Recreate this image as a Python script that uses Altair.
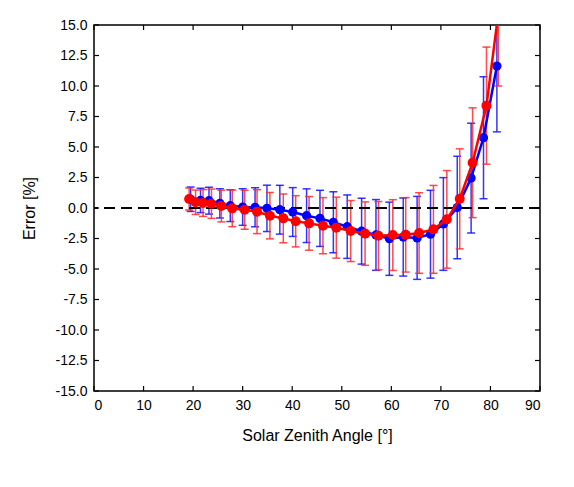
import altair as alt
import pandas as pd

# Blue series: solar zenith angle [deg], mean error [%], spread [%]
blue_angle = [19.5, 21.5, 23.2, 25.4, 27.5, 30.0, 32.5, 34.9, 37.5, 40.1, 42.9, 45.6, 48.3,
              51.1, 54.0, 56.9, 59.6, 62.4, 65.2, 67.9, 70.5, 73.3, 76.1, 78.6, 81.3]
blue_error = [0.72, 0.62, 0.60, 0.38, 0.19, 0.08, 0.06, -0.03, -0.14, -0.33, -0.63, -0.85, -1.17,
              -1.53, -1.90, -2.21, -2.52, -2.38, -2.45, -2.15, -1.31, 0.04, 2.45, 5.76, 11.64]
blue_spread = [1.0, 1.0, 1.1, 1.2, 1.3, 1.5, 1.6, 1.9, 2.0, 2.0, 2.2, 2.3, 2.5,
               2.6, 2.7, 2.9, 3.0, 3.2, 3.4, 3.6, 3.8, 4.2, 4.5, 5.0, 5.4]

# Red series
red_angle = [19.2, 20.5, 22.0, 23.7, 25.7, 27.9, 30.4, 32.9, 35.5, 38.2, 40.7, 43.4, 46.2,
             48.9, 51.8, 54.7, 57.4, 60.3, 62.9, 65.6, 68.5, 71.2, 73.8, 76.4, 79.2, 81.6]
red_error = [0.74, 0.47, 0.41, 0.35, 0.16, -0.03, -0.14, -0.30, -0.63, -0.85, -1.09, -1.26, -1.45,
             -1.61, -1.89, -2.10, -2.27, -2.22, -2.20, -2.05, -1.75, -0.93, 0.75, 3.71, 8.39, 16.0]
red_spread = [0.9, 1.0, 1.1, 1.2, 1.3, 1.5, 1.6, 1.8, 1.9, 2.0, 2.1, 2.2, 2.3,
              2.5, 2.5, 2.6, 2.8, 2.9, 3.05, 3.3, 3.6, 4.0, 4.1, 4.5, 4.8, 6.0]

x_ticks = [0, 10, 20, 30, 40, 50, 60, 70, 80, 90]
y_ticks = [-15, -12.5, -10, -7.5, -5, -2.5, 0, 2.5, 5, 7.5, 10, 12.5, 15]

W, H = 446, 366
FONT = 'Liberation Sans'


def frame(angle, value, spread):
    return pd.DataFrame({
        'angle': angle,
        'error': value,
        'lo': [v - s for v, s in zip(value, spread)],
        'hi': [v + s for v, s in zip(value, spread)],
    })


blue = frame(blue_angle, blue_error, blue_spread)
red = frame(red_angle, red_error, red_spread)

x_scale = alt.Scale(domain=[0, 90], nice=False)
y_scale = alt.Scale(domain=[-15, 15], nice=False)
y_axis = alt.Axis(values=y_ticks, labelPadding=7, titlePadding=18, labelOverlap=False,
                  labelExpr="replace(format(datum.value, '.1f'), '\u2212', '-')")

x_enc = alt.X('angle:Q', scale=x_scale, title='Solar Zenith Angle [°]',
              axis=alt.Axis(values=x_ticks, labelPadding=7, titlePadding=15, labelOverlap=False))


def y_of(field):
    return alt.Y(f'{field}:Q', scale=y_scale, title='Error [%]', axis=y_axis)


y_enc = y_of('error')


def error_bars(df, color):
    base = alt.Chart(df)
    stem = base.mark_rule(color=color, strokeWidth=1.5, opacity=0.85, clip=True).encode(
        x=x_enc, y=y_of('lo'), y2='hi:Q')
    top = base.mark_tick(color=color, orient='horizontal', size=8, thickness=1.5,
                         opacity=0.85, clip=True).encode(x=x_enc, y=y_of('hi'))
    bottom = base.mark_tick(color=color, orient='horizontal', size=8, thickness=1.5,
                            opacity=0.85, clip=True).encode(x=x_enc, y=y_of('lo'))
    return stem + top + bottom


def series(df, color, size):
    base = alt.Chart(df).encode(x=x_enc, y=y_enc)
    line = base.mark_line(color=color, strokeWidth=2.5, clip=True)
    dots = base.mark_circle(color=color, size=size, opacity=1, clip=True)
    return line + dots


zero_line = alt.Chart(pd.DataFrame({'error': [0]})).mark_rule(
    color='black', strokeWidth=2, strokeDash=[11, 6]).encode(y=y_enc)

# inward ticks on all four sides
xt = alt.Chart(pd.DataFrame({'angle': x_ticks}))
yt = alt.Chart(pd.DataFrame({'error': y_ticks}))
ticks = (
    xt.mark_rule(color='black', strokeWidth=1.2).encode(x=x_enc, y=alt.value(H), y2=alt.value(H - 5))
    + xt.mark_rule(color='black', strokeWidth=1.2).encode(x=x_enc, y=alt.value(0), y2=alt.value(5))
    + yt.mark_rule(color='black', strokeWidth=1.2).encode(y=y_enc, x=alt.value(0), x2=alt.value(5))
    + yt.mark_rule(color='black', strokeWidth=1.2).encode(y=y_enc, x=alt.value(W), x2=alt.value(W - 5))
)

chart = alt.layer(
    error_bars(blue, '#1010ff'),
    error_bars(red, '#ff2a2a'),
    zero_line,
    series(blue, '#0000ff', 85),
    series(red, '#ff0000', 100),
    ticks,
).properties(
    width=W,
    height=H,
    autosize='none',
    padding={'left': 86, 'top': 17, 'right': 26, 'bottom': 88},
    background='white',
).configure_view(
    stroke='black',
    strokeWidth=1.5,
).configure_axis(
    grid=False,
    domain=False,
    ticks=False,
    tickSize=0,
    labelFont=FONT,
    labelFontSize=14,
    labelColor='black',
    titleFont=FONT,
    titleFontSize=16,
    titleFontWeight='normal',
    titleColor='black',
)

chart.save('out.html', embed_options={'renderer': 'svg', 'actions': False})
